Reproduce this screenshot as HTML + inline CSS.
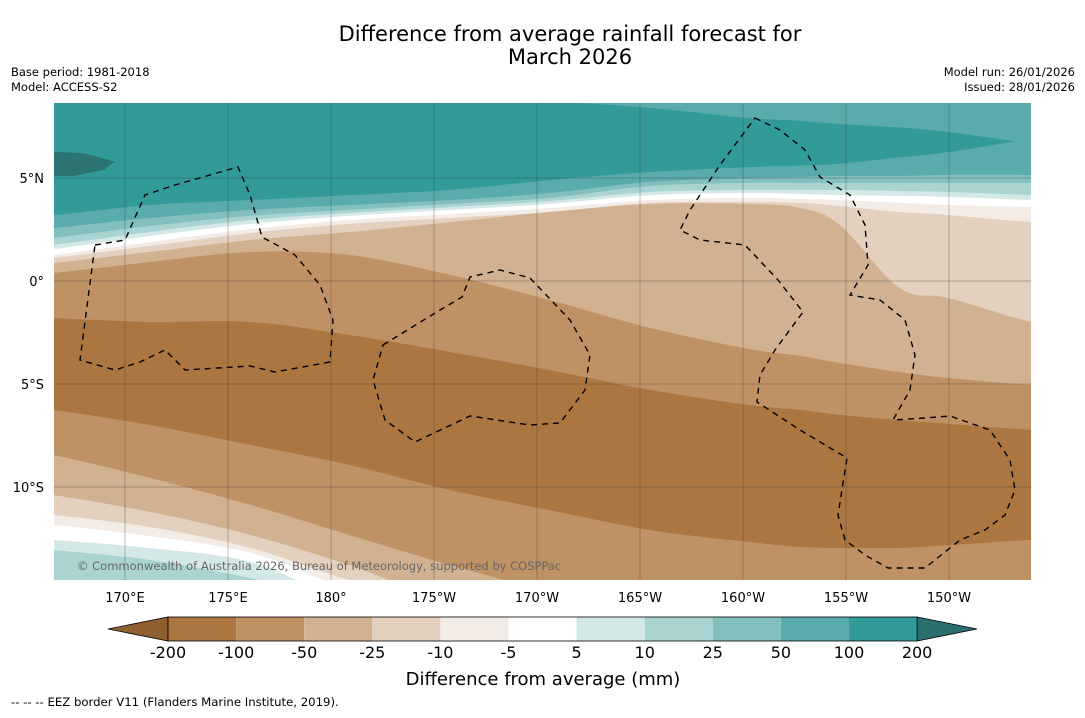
<!DOCTYPE html>
<html><head><meta charset="utf-8">
<style>
body{margin:0;background:#fff;font-family:"Liberation Sans","DejaVu Sans",sans-serif;}
svg text{font-family:"DejaVu Sans","Liberation Sans",sans-serif;}
</style></head>
<body>
<svg id="s" width="1085" height="713" viewBox="0 0 1085 713" xmlns="http://www.w3.org/2000/svg">
<text x="570" y="41" font-size="21" text-anchor="middle">Difference from average rainfall forecast for</text>
<text x="570" y="64" font-size="21" text-anchor="middle">March 2026</text>
<text x="11" y="76" font-size="11.5">Base period: 1981-2018</text>
<text x="11" y="91" font-size="11.5">Model: ACCESS-S2</text>
<text x="1075" y="76" font-size="11.5" text-anchor="end">Model run: 26/01/2026</text>
<text x="1075" y="91" font-size="11.5" text-anchor="end">Issued: 28/01/2026</text>
<defs><clipPath id="mc"><rect x="54" y="103" width="977" height="477"/></clipPath></defs>
<g id="map" clip-path="url(#mc)"></g>
<g id="eez" clip-path="url(#mc)" fill="none" stroke="#000" stroke-width="1.4" stroke-dasharray="6,5">
<path d="M95,245 L125,240 L145,195 L175,185 L238,167 L250,195 L262,237 L295,255 L320,285 L333,320 L330,362 L275,372 L250,366 L185,370 L165,350 L140,362 L115,370 L80,360 Z"/>
<path d="M383,345 L440,310 L462,297 L470,277 L500,270 L530,278 L570,320 L590,355 L585,390 L560,423 L530,425 L470,416 L415,442 L385,420 L373,380 Z"/>
<path d="M755,118 L780,130 L805,150 L820,177 L850,195 L865,225 L868,265 L850,295 L880,300 L905,320 L915,355 L910,390 L893,420 L925,418 L950,416 L990,430 L1010,460 L1015,490 L1005,515 L985,530 L960,540 L925,568 L888,568 L865,555 L845,540 L838,515 L847,458 L800,430 L757,402 L760,375 L775,350 L803,312 L778,280 L745,245 L700,240 L680,230 L690,210 L720,165 Z"/>
</g>
<g id="grid" stroke="#333" stroke-width="0.5" stroke-opacity="0.6"></g>
<g id="axl" font-size="13"></g>
<text x="77" y="570" font-size="11.5" fill="#666">© Commonwealth of Australia 2026, Bureau of Meteorology, supported by COSPPac</text>
<g id="cbar"></g>
<text x="543" y="685" font-size="18" text-anchor="middle">Difference from average (mm)</text>
<text x="11" y="706" font-size="11.7">--  --  -- EEZ border V11 (Flanders Marine Institute, 2019).</text>
</svg>
<script>
const lons=[166.5,171.2,176.1,180.9,185.8,190.6,195.5,200.3,202.8,204.7,207.6,210.0,214.0];
const b1=[3.2,3.69,3.93,4.17,4.42,4.9,5.29,5.53,5.6,5.7,6.0,6.26,6.9];
const b2=[2.57,3.06,3.45,3.69,3.93,4.27,4.81,5.0,5.05,5.1,5.1,5.15,5.15];
const b3=[2.09,2.67,3.16,3.45,3.74,4.03,4.61,4.76,4.76,4.76,4.76,4.76,4.76];
const b4=[1.75,2.38,2.96,3.3,3.59,3.88,4.32,4.42,4.42,4.42,4.37,4.32,4.17];
const b5=[1.55,2.18,2.77,3.16,3.45,3.74,4.17,4.27,4.22,4.17,4.13,4.08,3.93];
const b6=[1.26,1.89,2.52,2.96,3.25,3.54,3.93,4.03,3.98,3.93,3.79,3.69,3.59];
const b7=[1.12,1.7,2.33,2.77,3.06,3.35,3.79,3.83,3.79,3.64,3.35,3.2,2.86];
const b8=[0.87,1.41,1.99,2.38,2.86,3.35,3.74,3.74,3.54,2.72,-0.34,-0.83,-1.99];
const b9=[0.39,0.92,1.41,1.26,0.29,-0.92,-2.28,-3.3,-3.64,-3.98,-4.42,-4.71,-5.05];
const b10=[-1.8,-1.99,-1.99,-2.62,-3.45,-4.32,-5.29,-6.02,-6.26,-6.5,-6.75,-6.94,-7.23];
const b11=[-6.26,-6.99,-7.96,-8.93,-10.15,-11.12,-12.09,-12.67,-12.91,-12.96,-12.96,-12.82,-12.57];
const b12=[-8.45,-9.56,-10.87,-12.33,-13.79,-15.0,-15.5,-15.5,-15.5,-15.5,-15.5,-15.5,-15.5];
const b13=[-10.39,-11.21,-12.33,-13.79,-15.5,-15.5,-15.5,-15.5,-15.5,-15.5,-15.5,-15.5,-15.5];
const b14=[-11.36,-11.94,-12.96,-14.51,-15.5,-15.5,-15.5,-15.5,-15.5,-15.5,-15.5,-15.5,-15.5];
const b15=[-11.84,-12.38,-13.2,-14.9,-15.5,-15.5,-15.5,-15.5,-15.5,-15.5,-15.5,-15.5,-15.5];
const b16=[-12.57,-12.96,-13.64,-15.5,-15.5,-15.5,-15.5,-15.5,-15.5,-15.5,-15.5,-15.5,-15.5];
const b17=[-13.06,-13.54,-14.42,-15.5,-15.5,-15.5,-15.5,-15.5,-15.5,-15.5,-15.5,-15.5,-15.5];
const topPatch=[9.03,9.03,9.03,9.03,9.03,8.74,8.4,7.91,7.77,7.62,7.45,7.23,6.7];
const darkLons=[166.0,168.0,169.5,169.0,167.5,166.0];
const darkLats=[6.3,6.2,5.8,5.4,5.1,5.1];
const xTickLons=[170,175,180,185,190,195,200,205,210];
const xTickLabels=["170°E","175°E","180°","175°W","170°W","165°W","160°W","155°W","150°W"];
const yTickLats=[5,0,-5,-10];
const yTickLabels=["5°N","0°","5°S","10°S"];
const cbLevels=["-200","-100","-50","-25","-10","-5","5","10","25","50","100","200"];
const cbColors=["#ab763f","#bf9265","#d2b190","#e3d0bf","#f2ebe6","#ffffff","#d4e9e7","#a9d4d2","#82bfbd","#5aabab","#339a9a"];

const NS='http://www.w3.org/2000/svg';
const X=lon=>125+(lon-170)*20.6;
const Y=lat=>281-lat*20.6;
function mk(tag,attrs,parent){const e=document.createElementNS(NS,tag);for(const k in attrs)e.setAttribute(k,attrs[k]);parent.appendChild(e);return e;}
function smooth(pts){let d='M'+pts[0][0]+','+pts[0][1];for(let i=0;i<pts.length-1;i++){const p0=pts[Math.max(0,i-1)],p1=pts[i],p2=pts[i+1],p3=pts[Math.min(pts.length-1,i+2)];
const c1=[p1[0]+(p2[0]-p0[0])/6,p1[1]+(p2[1]-p0[1])/6],c2=[p2[0]-(p3[0]-p1[0])/6,p2[1]-(p3[1]-p1[1])/6];
d+=' C'+c1[0].toFixed(1)+','+c1[1].toFixed(1)+' '+c2[0].toFixed(1)+','+c2[1].toFixed(1)+' '+p2[0].toFixed(1)+','+p2[1].toFixed(1);}return d;}
const map=document.getElementById('map');
const bg=mk('rect',{x:40,y:90,width:1010,height:520,fill:'#339a9a'},map);


const bands=[[b1,'#5aabab','50-100'],[b2,'#82bfbd','25-50'],[b3,'#a9d4d2','10-25'],[b4,'#d4e9e7','5-10'],[b5,'#ffffff','neutral'],[b6,'#f2ebe6','minus10'],[b7,'#e3d0bf','minus25'],[b8,'#d2b190','minus50'],[b9,'#bf9265','minus100'],[b10,'#ab763f','minus200'],[b11,'#bf9265','minus100-south'],[b12,'#d2b190','minus50-south'],[b13,'#e3d0bf','minus25-south'],[b14,'#f2ebe6','minus10-south'],[b15,'#ffffff','neutral-south'],[b16,'#d4e9e7','5-10-south'],[b17,'#a9d4d2','10-25-south']];
bands.forEach(([arr,col,nm])=>{
 const pts=lons.map((l,i)=>[X(l),Y(arr[i])]);
 pts.unshift([30,pts[0][1]]);pts.push([1060,pts[pts.length-1][1]]);
 const p=mk('path',{d:smooth(pts)+' L1060,620 L30,620 Z',fill:col},map);
 
 
});
{const pts=lons.map((l,i)=>[X(l),Y(topPatch[i])]);pts.push([1060,Y(topPatch[topPatch.length-1])]);
const p=mk('path',{d:smooth(pts)+' L1060,80 L30,80 Z',fill:'#5aabab'},map);

}
{const pts=darkLons.map((l,i)=>[X(l),Y(darkLats[i])]);
const p=mk('path',{d:'M'+pts.map(q=>q.join(',')).join(' L')+' Z',fill:'#2b7472'},map);

}
const grid=document.getElementById('grid'),axl=document.getElementById('axl');
xTickLons.forEach((l,i)=>{const x=X(l);
 const g=mk('line',{x1:x,x2:x,y1:103,y2:580},grid);
 
 
 const t=mk('text',{x:x,y:602,'text-anchor':'middle'},axl);t.textContent=xTickLabels[i];
 
 });
yTickLats.forEach((l,i)=>{const y=Y(l);
 const g=mk('line',{x1:54,x2:1031,y1:y,y2:y},grid);
 
 
 const t=mk('text',{x:44,y:y+5,'text-anchor':'end'},axl);t.textContent=yTickLabels[i];
 
 });
const cb=document.getElementById('cbar');const cx0=168,cw=68.1,cy=617,ch=24;
const lt=mk('polygon',{points:`108,629 ${cx0},${cy} ${cx0},${cy+ch}`,fill:'#8f5f30',stroke:'#000','stroke-width':0.8},cb);


const xe=cx0+cw*cbColors.length;
const rt=mk('polygon',{points:`${xe},${cy} 977,629 ${xe},${cy+ch}`,fill:'#2a6f6d',stroke:'#000','stroke-width':0.8},cb);


cbColors.forEach((c,i)=>{const r=mk('rect',{x:cx0+i*cw,y:cy,width:cw,height:ch,fill:c},cb);
 
 });
const fr=mk('rect',{x:cx0,y:cy,width:cw*cbColors.length,height:ch,fill:'none',stroke:'#000','stroke-width':0.8},cb);


cbLevels.forEach((s,i)=>{const t=mk('text',{x:cx0+i*cw,y:658,'font-size':16,'text-anchor':'middle'},cb);t.textContent=s;
 
 });
</script>
</body></html>
